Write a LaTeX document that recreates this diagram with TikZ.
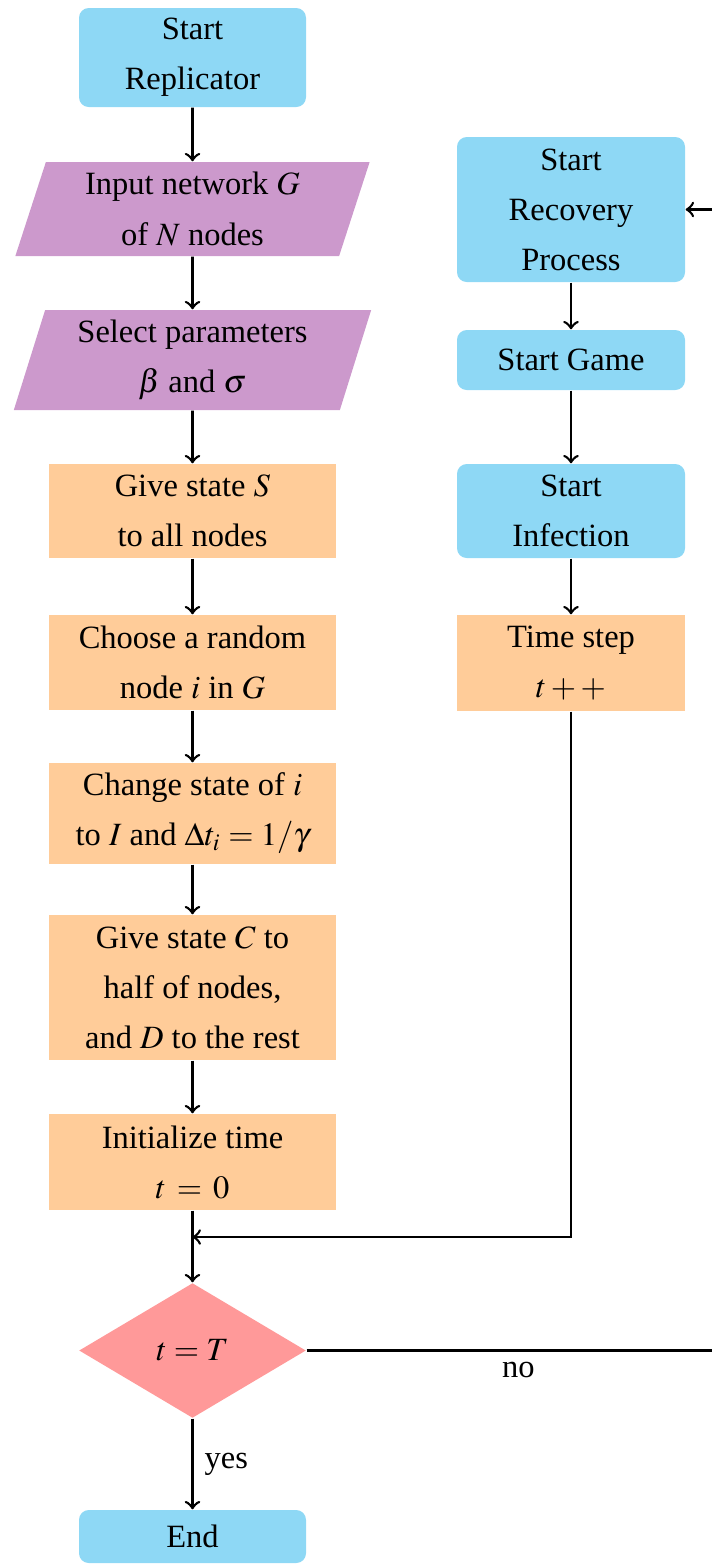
\documentclass[tikz,border=0pt]{standalone}
\usepackage{mathptmx}
\usepackage[no-math]{fontspec}
\setmainfont{Liberation Serif}
\usetikzlibrary{shapes.geometric}

% one drawing unit
\def\pxu{0.3077pt}

\definecolor{startblue}{RGB}{142,216,245}
\definecolor{iopurple}{RGB}{204,153,204}
\definecolor{procorange}{RGB}{255,204,153}
\definecolor{decred}{RGB}{255,153,153}

\tikzset{
  base/.style={align=center, inner sep=0pt, minimum width=227*\pxu},
  startstop/.style={base, rectangle, rounded corners=3pt, fill=startblue},
  iobox/.style={base, trapezium, trapezium left angle=73, trapezium right angle=107,
                trapezium stretches=true, fill=iopurple},
  procbox/.style={base, rectangle, fill=procorange, minimum width=287*\pxu},
  decbox/.style={base, diamond, aspect=1.68, fill=decred, minimum height=135*\pxu},
  arr/.style={->, line width=0.8pt},
  link/.style={line width=0.8pt},
}

\begin{document}
\begin{tikzpicture}[x=\pxu, y=-\pxu, font=\fontsize{10}{15.4}\selectfont]
\clip (0,0) rectangle (712,1566);

% left column
\node[startstop, minimum height=99*\pxu] (start) at (192.5,57.5) {Start\\Replicator};
\node[iobox, minimum width=355*\pxu, minimum height=94*\pxu] (input) at (192.5,209) {Input network $G$\\of $N$ nodes};
\node[iobox, minimum width=359*\pxu, minimum height=100*\pxu] (params) at (192.5,360) {Select parameters\\$\beta$ and $\sigma$};
\node[procbox, minimum height=94*\pxu] (giveS) at (192.5,511) {Give state $S$\\to all nodes};
\node[procbox, minimum height=95*\pxu] (choose) at (192.5,662.5) {Choose a random\\node $i$ in $G$};
\node[procbox, minimum height=101*\pxu] (change) at (192.5,813.5) {Change state of $i$\\to $I$ and $\Delta t_i = 1/\gamma$};
\node[procbox, minimum height=145*\pxu] (giveC) at (192.5,987.5) {Give state $C$ to\\half of nodes,\\and $D$ to the rest};
\node[procbox, minimum height=96*\pxu] (init) at (192.5,1162) {Initialize time\\$t\,=\,0$};
\coordinate (junc) at (192.5,1237);
\node[decbox] (dec) at (192.5,1350.5) {$t=T$};
\node[startstop, minimum height=53*\pxu] (end) at (192.5,1536.5) {End};

% right column
\node[startstop, minimum width=228*\pxu, minimum height=145*\pxu] (recov) at (571,209.5) {Start\\Recovery\\Process};
\node[startstop, minimum width=228*\pxu, minimum height=60*\pxu] (game) at (571,360) {Start Game};
\node[startstop, minimum width=228*\pxu, minimum height=94*\pxu] (infect) at (571,511) {Start\\Infection};
\node[procbox, minimum width=228*\pxu, minimum height=96*\pxu] (tstep) at (571,663) {Time step\\$t++$};

% connectors
\draw[arr] (start) -- (input);
\draw[arr] (input) -- (params);
\draw[arr] (params) -- (giveS);
\draw[arr] (giveS) -- (choose);
\draw[arr] (choose) -- (change);
\draw[arr] (change) -- (giveC);
\draw[arr] (giveC) -- (init);
\draw[link] (init) -- (junc);
\draw[arr] (junc) -- (dec);
\draw[arr] (recov) -- (game);
\draw[arr] (game) -- (infect);
\draw[arr] (infect) -- (tstep);
\draw[arr] (tstep.south) |- (junc);
\draw[arr] (dec) -- node[right] {yes} (end);

\coordinate (loopR) at (730,1350.5);
\draw[arr] (dec.east) -- node[below] {no} (loopR) |- (recov.east);
\end{tikzpicture}
\end{document}
